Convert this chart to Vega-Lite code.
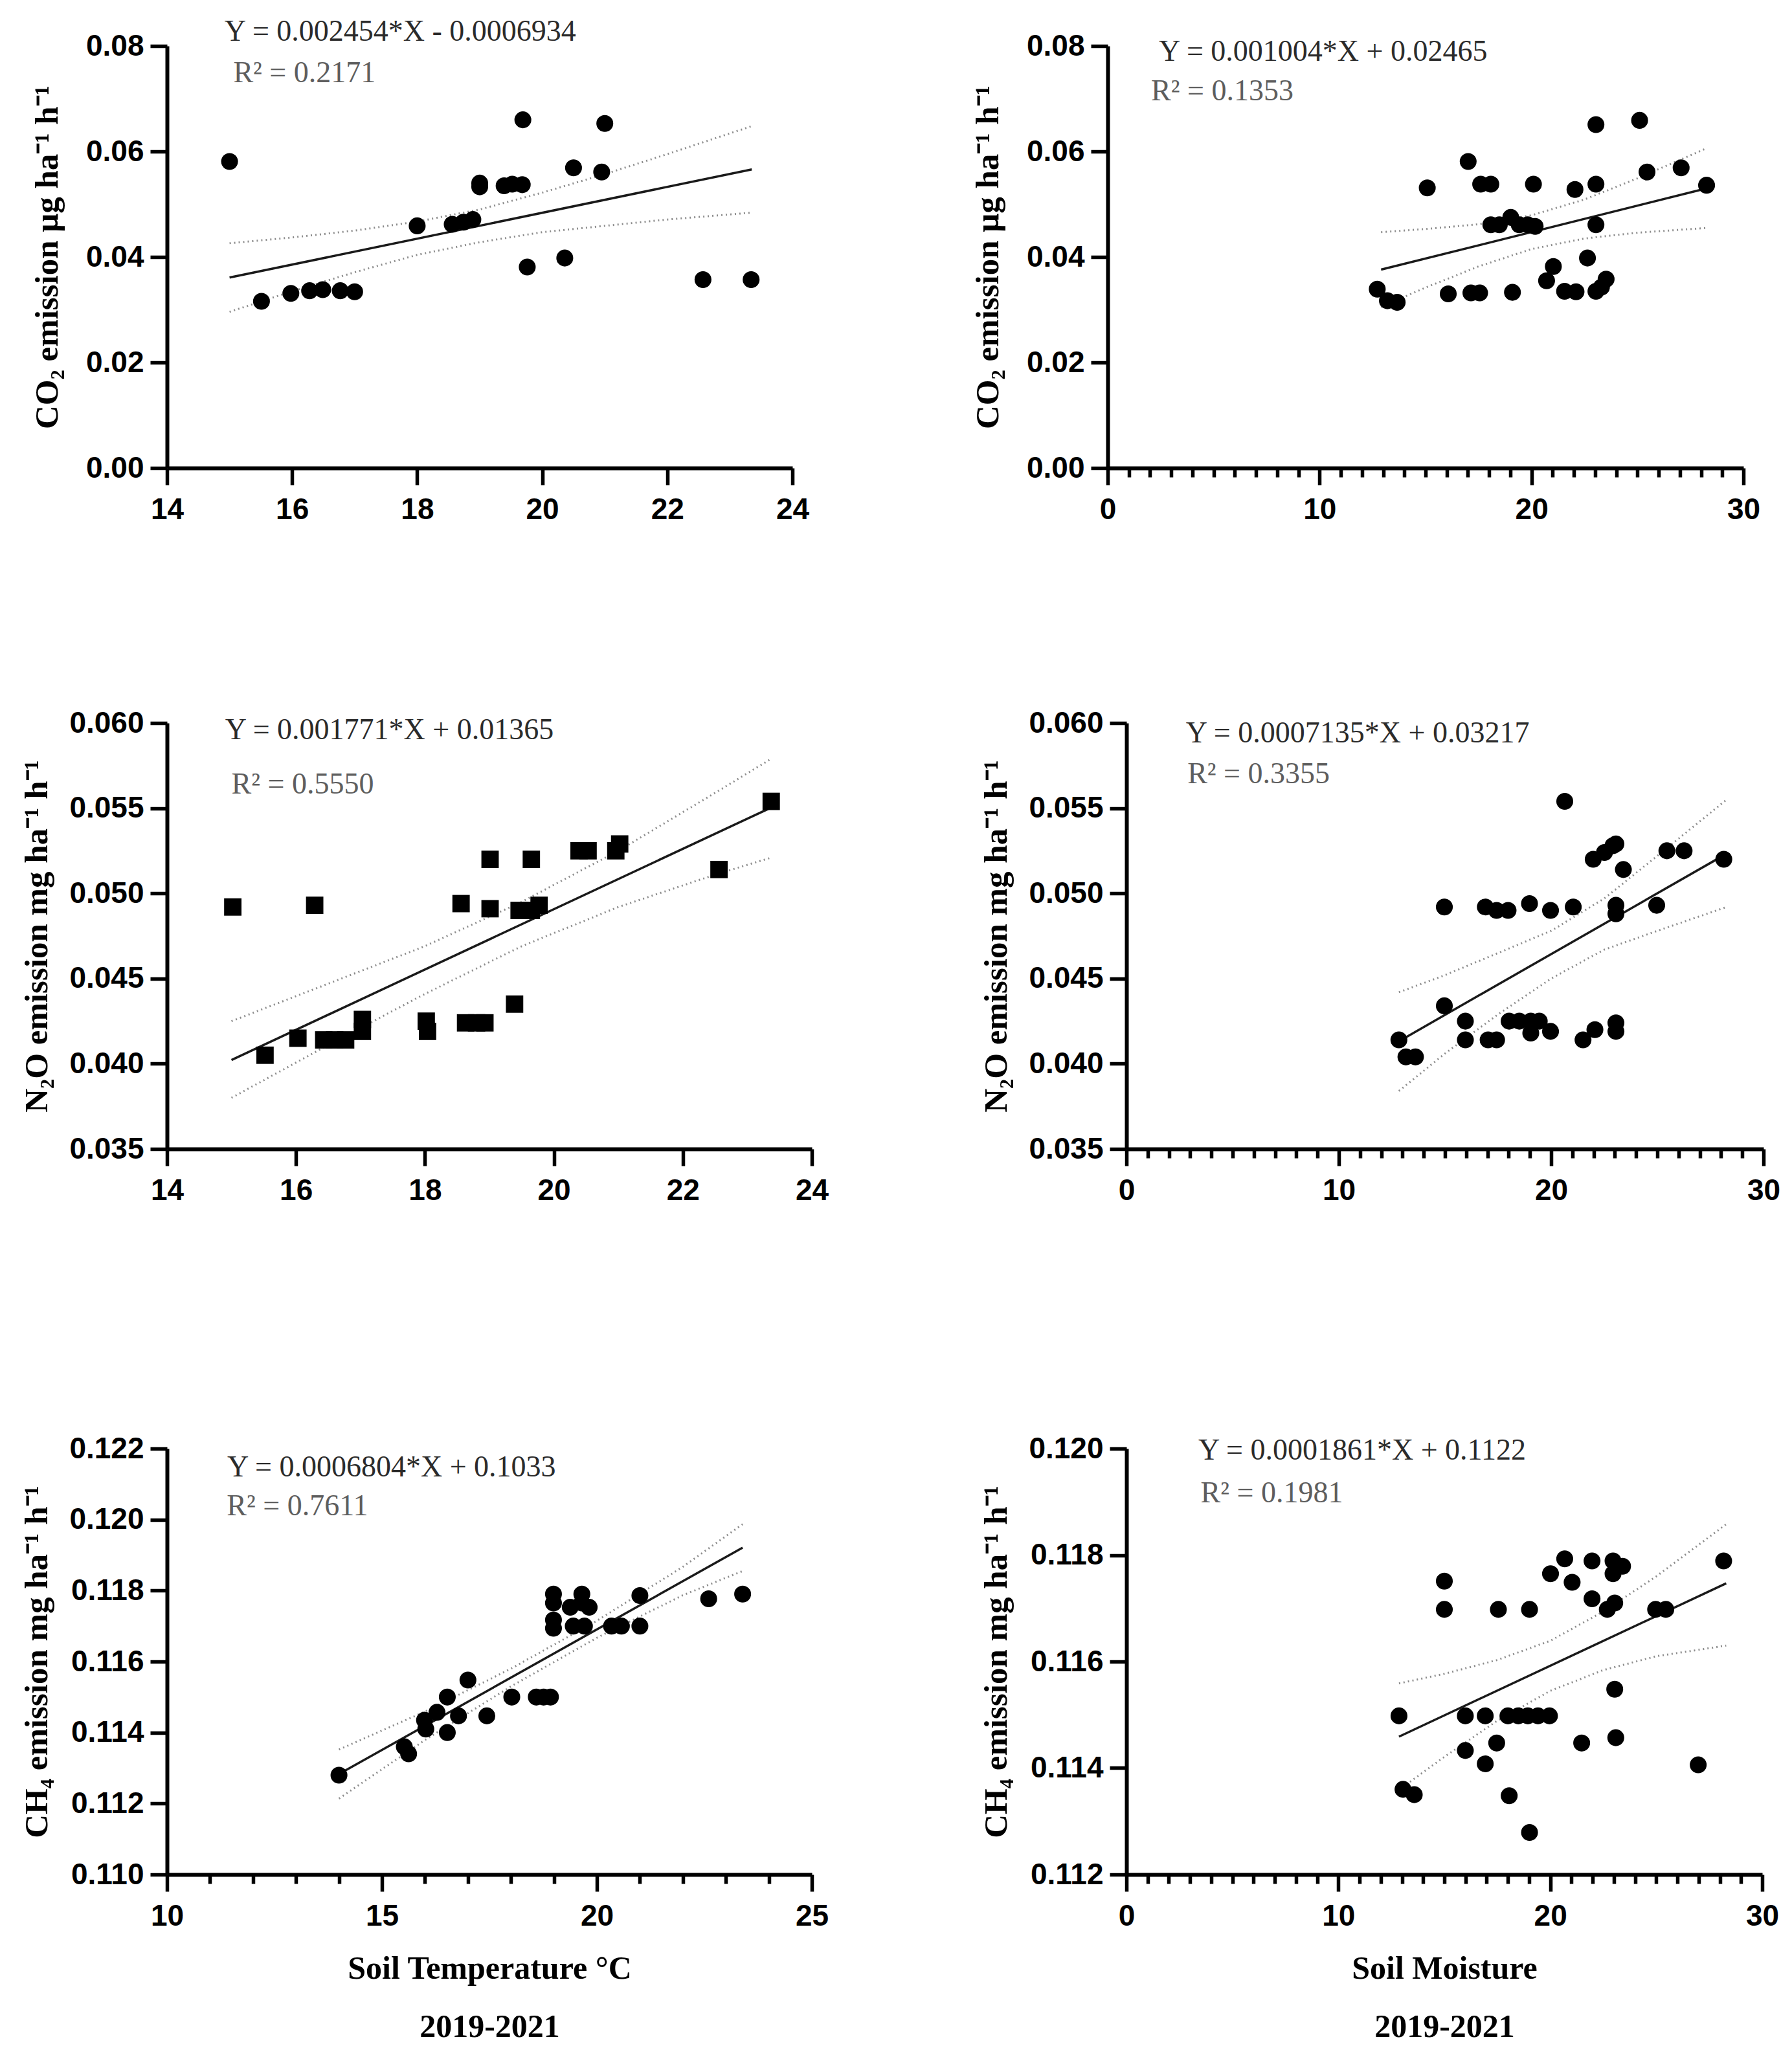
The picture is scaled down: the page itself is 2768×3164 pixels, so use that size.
{
  "$schema": "https://vega.github.io/schema/vega-lite/v6.json",
  "description": "CO2, N2O and CH4 emission vs soil temperature and soil moisture, 2019-2021",
  "background": "white",
  "padding": {"left": 31, "top": 25, "right": 5, "bottom": 5},
  "datasets": {
    "p1pts": [
      {"x": 15.0, "y": 0.0581}, {"x": 15.51, "y": 0.0316}, {"x": 15.98, "y": 0.0331}, {"x": 16.28, "y": 0.0336},
      {"x": 16.49, "y": 0.0338}, {"x": 16.77, "y": 0.0336}, {"x": 17.0, "y": 0.0334}, {"x": 18.0, "y": 0.0459},
      {"x": 18.56, "y": 0.0462}, {"x": 18.74, "y": 0.0466}, {"x": 18.89, "y": 0.0471}, {"x": 19.0, "y": 0.0533},
      {"x": 19.0, "y": 0.054}, {"x": 19.39, "y": 0.0535}, {"x": 19.52, "y": 0.0538}, {"x": 19.69, "y": 0.066},
      {"x": 19.68, "y": 0.0537}, {"x": 19.76, "y": 0.0381}, {"x": 20.36, "y": 0.0398}, {"x": 20.5, "y": 0.0569},
      {"x": 20.95, "y": 0.0561}, {"x": 21.0, "y": 0.0653}, {"x": 22.57, "y": 0.0357}, {"x": 23.34, "y": 0.0357}
    ],
    "p1cur": [
      {"x": 15.0, "y": 0.0361, "band": "fit"}, {"x": 23.35, "y": 0.0566, "band": "fit"},
      {"x": 15, "y": 0.0426, "band": "upper"}, {"x": 16, "y": 0.0437, "band": "upper"}, {"x": 17, "y": 0.045, "band": "upper"},
      {"x": 18, "y": 0.0467, "band": "upper"}, {"x": 19, "y": 0.049, "band": "upper"}, {"x": 20, "y": 0.0522, "band": "upper"},
      {"x": 21, "y": 0.0557, "band": "upper"}, {"x": 22, "y": 0.0595, "band": "upper"}, {"x": 23.35, "y": 0.0648, "band": "upper"},
      {"x": 15, "y": 0.0296, "band": "lower"}, {"x": 16, "y": 0.0335, "band": "lower"}, {"x": 17, "y": 0.0371, "band": "lower"},
      {"x": 18, "y": 0.0404, "band": "lower"}, {"x": 19, "y": 0.0428, "band": "lower"}, {"x": 20, "y": 0.0447, "band": "lower"},
      {"x": 21, "y": 0.0459, "band": "lower"}, {"x": 22, "y": 0.0471, "band": "lower"}, {"x": 23.35, "y": 0.0484, "band": "lower"}
    ],
    "p1txt": [
      {"x": 14.92, "y": 0.0827, "t": "Y = 0.002454*X - 0.0006934", "k": "eq"},
      {"x": 15.06, "y": 0.0749, "t": "R² = 0.2171", "k": "r2"}
    ],
    "p2pts": [
      {"x": 12.72, "y": 0.0339}, {"x": 13.2, "y": 0.0317}, {"x": 13.66, "y": 0.0314}, {"x": 15.08, "y": 0.0531},
      {"x": 16.07, "y": 0.033}, {"x": 17.01, "y": 0.0581}, {"x": 17.14, "y": 0.0332}, {"x": 17.55, "y": 0.0332},
      {"x": 17.6, "y": 0.0538}, {"x": 18.08, "y": 0.0538}, {"x": 18.08, "y": 0.0461}, {"x": 18.48, "y": 0.0461},
      {"x": 19.02, "y": 0.0475}, {"x": 19.1, "y": 0.0333}, {"x": 19.42, "y": 0.0461}, {"x": 19.82, "y": 0.0461},
      {"x": 20.09, "y": 0.0538}, {"x": 20.17, "y": 0.0458}, {"x": 20.71, "y": 0.0355}, {"x": 21.03, "y": 0.0382},
      {"x": 21.56, "y": 0.0335}, {"x": 22.05, "y": 0.0528}, {"x": 22.1, "y": 0.0334}, {"x": 22.64, "y": 0.0398},
      {"x": 23.04, "y": 0.0651}, {"x": 23.04, "y": 0.0538}, {"x": 23.04, "y": 0.0461}, {"x": 23.04, "y": 0.0335},
      {"x": 23.3, "y": 0.0343}, {"x": 23.52, "y": 0.0358}, {"x": 25.1, "y": 0.0659}, {"x": 25.45, "y": 0.0561},
      {"x": 27.06, "y": 0.0569}, {"x": 28.26, "y": 0.0536}
    ],
    "p2cur": [
      {"x": 12.9, "y": 0.0376, "band": "fit"}, {"x": 28.26, "y": 0.053, "band": "fit"},
      {"x": 12.9, "y": 0.0447, "band": "upper"}, {"x": 15, "y": 0.0453, "band": "upper"}, {"x": 17.5, "y": 0.0462, "band": "upper"},
      {"x": 20, "y": 0.0479, "band": "upper"}, {"x": 22.5, "y": 0.0509, "band": "upper"}, {"x": 25, "y": 0.0549, "band": "upper"},
      {"x": 28.26, "y": 0.0606, "band": "upper"},
      {"x": 12.9, "y": 0.0305, "band": "lower"}, {"x": 15, "y": 0.0342, "band": "lower"}, {"x": 17.5, "y": 0.0382, "band": "lower"},
      {"x": 20, "y": 0.0415, "band": "lower"}, {"x": 22.5, "y": 0.0435, "band": "lower"}, {"x": 25, "y": 0.0446, "band": "lower"},
      {"x": 28.26, "y": 0.0455, "band": "lower"}
    ],
    "p2txt": [
      {"x": 2.41, "y": 0.0789, "t": "Y = 0.001004*X + 0.02465", "k": "eq"},
      {"x": 2.05, "y": 0.0714, "t": "R² = 0.1353", "k": "r2"}
    ],
    "p3pts": [
      {"x": 15.02, "y": 0.0492}, {"x": 15.52, "y": 0.0405}, {"x": 16.03, "y": 0.0415}, {"x": 16.29, "y": 0.0493},
      {"x": 16.43, "y": 0.0414}, {"x": 16.6, "y": 0.0414}, {"x": 16.77, "y": 0.0414}, {"x": 17.03, "y": 0.0426},
      {"x": 17.03, "y": 0.0419}, {"x": 18.02, "y": 0.0425}, {"x": 18.04, "y": 0.0419}, {"x": 18.56, "y": 0.0494},
      {"x": 18.63, "y": 0.0424}, {"x": 18.8, "y": 0.0424}, {"x": 18.93, "y": 0.0424}, {"x": 19.01, "y": 0.052},
      {"x": 19.01, "y": 0.0491}, {"x": 19.39, "y": 0.0435}, {"x": 19.46, "y": 0.049}, {"x": 19.65, "y": 0.052},
      {"x": 19.65, "y": 0.049}, {"x": 19.77, "y": 0.0493}, {"x": 20.39, "y": 0.0525}, {"x": 20.53, "y": 0.0525},
      {"x": 20.96, "y": 0.0525}, {"x": 21.02, "y": 0.0529}, {"x": 22.56, "y": 0.0514}, {"x": 23.37, "y": 0.0554}
    ],
    "p3cur": [
      {"x": 15.0, "y": 0.04022, "band": "fit"}, {"x": 23.37, "y": 0.05504, "band": "fit"},
      {"x": 15, "y": 0.0425, "band": "upper"}, {"x": 16.5, "y": 0.0447, "band": "upper"}, {"x": 18, "y": 0.0469, "band": "upper"},
      {"x": 19.5, "y": 0.0495, "band": "upper"}, {"x": 21, "y": 0.0525, "band": "upper"}, {"x": 22.5, "y": 0.0559, "band": "upper"},
      {"x": 23.37, "y": 0.0579, "band": "upper"},
      {"x": 15, "y": 0.038, "band": "lower"}, {"x": 16.5, "y": 0.0411, "band": "lower"}, {"x": 18, "y": 0.0441, "band": "lower"},
      {"x": 19.5, "y": 0.0469, "band": "lower"}, {"x": 21, "y": 0.0492, "band": "lower"}, {"x": 22.5, "y": 0.0511, "band": "lower"},
      {"x": 23.37, "y": 0.0521, "band": "lower"}
    ],
    "p3txt": [
      {"x": 14.9, "y": 0.0596, "t": "Y = 0.001771*X + 0.01365", "k": "eq"},
      {"x": 15.0, "y": 0.0564, "t": "R² = 0.5550", "k": "r2"}
    ],
    "p4pts": [
      {"x": 12.83, "y": 0.0414}, {"x": 13.16, "y": 0.0404}, {"x": 13.61, "y": 0.0404}, {"x": 14.97, "y": 0.0492},
      {"x": 14.97, "y": 0.0434}, {"x": 15.96, "y": 0.0425}, {"x": 15.96, "y": 0.0414}, {"x": 16.9, "y": 0.0492},
      {"x": 17.03, "y": 0.0414}, {"x": 17.43, "y": 0.0414}, {"x": 17.43, "y": 0.049}, {"x": 17.97, "y": 0.049},
      {"x": 18.02, "y": 0.0425}, {"x": 18.5, "y": 0.0425}, {"x": 18.98, "y": 0.0494}, {"x": 19.04, "y": 0.0418},
      {"x": 19.04, "y": 0.0425}, {"x": 19.44, "y": 0.0425}, {"x": 19.97, "y": 0.049}, {"x": 19.97, "y": 0.0419},
      {"x": 20.64, "y": 0.0554}, {"x": 21.04, "y": 0.0492}, {"x": 21.5, "y": 0.0414}, {"x": 21.98, "y": 0.052},
      {"x": 22.06, "y": 0.042}, {"x": 22.51, "y": 0.0524}, {"x": 22.91, "y": 0.0528}, {"x": 23.05, "y": 0.0529},
      {"x": 23.05, "y": 0.0493}, {"x": 23.05, "y": 0.0488}, {"x": 23.05, "y": 0.0424}, {"x": 23.05, "y": 0.0419},
      {"x": 23.4, "y": 0.0514}, {"x": 24.97, "y": 0.0493}, {"x": 25.45, "y": 0.0525}, {"x": 26.26, "y": 0.0525},
      {"x": 28.13, "y": 0.052}
    ],
    "p4cur": [
      {"x": 12.83, "y": 0.04132, "band": "fit"}, {"x": 28.26, "y": 0.05233, "band": "fit"},
      {"x": 12.83, "y": 0.0442, "band": "upper"}, {"x": 15, "y": 0.0452, "band": "upper"}, {"x": 17.5, "y": 0.0465, "band": "upper"},
      {"x": 20, "y": 0.0478, "band": "upper"}, {"x": 22.5, "y": 0.0497, "band": "upper"}, {"x": 25, "y": 0.0522, "band": "upper"},
      {"x": 28.26, "y": 0.0555, "band": "upper"},
      {"x": 12.83, "y": 0.0384, "band": "lower"}, {"x": 15, "y": 0.0406, "band": "lower"}, {"x": 17.5, "y": 0.0429, "band": "lower"},
      {"x": 20, "y": 0.045, "band": "lower"}, {"x": 22.5, "y": 0.0467, "band": "lower"}, {"x": 25, "y": 0.0478, "band": "lower"},
      {"x": 28.26, "y": 0.0492, "band": "lower"}
    ],
    "p4txt": [
      {"x": 2.8, "y": 0.0594, "t": "Y = 0.0007135*X + 0.03217", "k": "eq"},
      {"x": 2.87, "y": 0.057, "t": "R² = 0.3355", "k": "r2"}
    ],
    "p5pts": [
      {"x": 14.0, "y": 0.1128}, {"x": 15.52, "y": 0.1136}, {"x": 15.62, "y": 0.1134}, {"x": 15.99, "y": 0.11435},
      {"x": 16.02, "y": 0.1141}, {"x": 16.28, "y": 0.11457}, {"x": 16.52, "y": 0.115}, {"x": 16.52, "y": 0.114},
      {"x": 16.78, "y": 0.11447}, {"x": 17.0, "y": 0.11548}, {"x": 17.44, "y": 0.11447}, {"x": 18.02, "y": 0.115},
      {"x": 18.59, "y": 0.115}, {"x": 18.76, "y": 0.115}, {"x": 18.92, "y": 0.115}, {"x": 18.99, "y": 0.1179},
      {"x": 18.99, "y": 0.11765}, {"x": 18.99, "y": 0.11717}, {"x": 18.99, "y": 0.11694}, {"x": 19.38, "y": 0.11753},
      {"x": 19.45, "y": 0.117}, {"x": 19.65, "y": 0.1179}, {"x": 19.65, "y": 0.11765}, {"x": 19.71, "y": 0.117},
      {"x": 19.82, "y": 0.11753}, {"x": 20.34, "y": 0.117}, {"x": 20.57, "y": 0.117}, {"x": 21.0, "y": 0.117},
      {"x": 21.0, "y": 0.11786}, {"x": 22.6, "y": 0.11777}, {"x": 23.39, "y": 0.1179}
    ],
    "p5cur": [
      {"x": 14.0, "y": 0.11283, "band": "fit"}, {"x": 23.39, "y": 0.11921, "band": "fit"},
      {"x": 14, "y": 0.11352, "band": "upper"}, {"x": 16, "y": 0.11459, "band": "upper"}, {"x": 18, "y": 0.1158, "band": "upper"},
      {"x": 20, "y": 0.11715, "band": "upper"}, {"x": 22, "y": 0.11867, "band": "upper"}, {"x": 23.39, "y": 0.11987, "band": "upper"},
      {"x": 14, "y": 0.11214, "band": "lower"}, {"x": 16, "y": 0.11379, "band": "lower"}, {"x": 18, "y": 0.1153, "band": "lower"},
      {"x": 20, "y": 0.11667, "band": "lower"}, {"x": 22, "y": 0.11787, "band": "lower"}, {"x": 23.39, "y": 0.11855, "band": "lower"}
    ],
    "p5txt": [
      {"x": 11.4, "y": 0.12147, "t": "Y = 0.0006804*X + 0.1033", "k": "eq"},
      {"x": 11.39, "y": 0.12038, "t": "R² = 0.7611", "k": "r2"}
    ],
    "p6pts": [
      {"x": 12.86, "y": 0.11498}, {"x": 13.05, "y": 0.1136}, {"x": 13.58, "y": 0.1135}, {"x": 15.0, "y": 0.11751},
      {"x": 15.0, "y": 0.11698}, {"x": 15.99, "y": 0.11498}, {"x": 15.99, "y": 0.11433}, {"x": 16.93, "y": 0.11498},
      {"x": 16.93, "y": 0.11408}, {"x": 17.47, "y": 0.11447}, {"x": 17.55, "y": 0.11698}, {"x": 18.0, "y": 0.11498},
      {"x": 18.06, "y": 0.11348}, {"x": 18.49, "y": 0.11498}, {"x": 18.94, "y": 0.11498}, {"x": 19.02, "y": 0.11698},
      {"x": 19.02, "y": 0.11279}, {"x": 19.42, "y": 0.11498}, {"x": 19.96, "y": 0.11498}, {"x": 20.01, "y": 0.11765},
      {"x": 20.68, "y": 0.11793}, {"x": 21.03, "y": 0.11749}, {"x": 21.48, "y": 0.11447}, {"x": 21.97, "y": 0.11789},
      {"x": 21.97, "y": 0.11718}, {"x": 22.69, "y": 0.11698}, {"x": 22.96, "y": 0.11789}, {"x": 22.96, "y": 0.11765},
      {"x": 23.04, "y": 0.1171}, {"x": 23.04, "y": 0.11548}, {"x": 23.09, "y": 0.11457}, {"x": 23.41, "y": 0.11779},
      {"x": 24.97, "y": 0.11698}, {"x": 25.45, "y": 0.11698}, {"x": 26.98, "y": 0.11406}, {"x": 28.18, "y": 0.11789}
    ],
    "p6cur": [
      {"x": 12.86, "y": 0.11459, "band": "fit"}, {"x": 28.3, "y": 0.11747, "band": "fit"},
      {"x": 12.86, "y": 0.11559, "band": "upper"}, {"x": 15, "y": 0.11577, "band": "upper"}, {"x": 17.5, "y": 0.11603, "band": "upper"},
      {"x": 20, "y": 0.11639, "band": "upper"}, {"x": 22.5, "y": 0.11694, "band": "upper"}, {"x": 25, "y": 0.1176, "band": "upper"},
      {"x": 28.3, "y": 0.11858, "band": "upper"},
      {"x": 12.86, "y": 0.11359, "band": "lower"}, {"x": 15, "y": 0.11421, "band": "lower"}, {"x": 17.5, "y": 0.11489, "band": "lower"},
      {"x": 20, "y": 0.11545, "band": "lower"}, {"x": 22.5, "y": 0.11584, "band": "lower"}, {"x": 25, "y": 0.1161, "band": "lower"},
      {"x": 28.3, "y": 0.1163, "band": "lower"}
    ],
    "p6txt": [
      {"x": 3.39, "y": 0.11996, "t": "Y = 0.0001861*X + 0.1122", "k": "eq"},
      {"x": 3.5, "y": 0.11916, "t": "R² = 0.1981", "k": "r2"}
    ]
  },
  "concat": [
    {
      "hconcat": [
        {
          "width": 966, "height": 652,
          "encoding": {
            "x": {"field": "x", "type": "quantitative", "scale": {"domain": [14, 24], "nice": false, "zero": false},
                  "axis": {"title": null, "values": [14, 16, 18, 20, 22, 24]}},
            "y": {"field": "y", "type": "quantitative", "scale": {"domain": [0, 0.08], "nice": false},
                  "axis": {"title": "CO₂ emission μg ha⁻¹ h⁻¹", "titlePadding": 33, "values": [0, 0.02, 0.04, 0.06, 0.08], "format": ".2f"}}
          },
          "layer": [
            {"data": {"name": "p1cur"}, "transform": [{"filter": "datum.band !== 'fit'"}],
             "mark": {"type": "line", "color": "#8c8c8c", "strokeWidth": 3, "strokeDash": [2, 5]},
             "encoding": {"detail": {"field": "band"}}},
            {"data": {"name": "p1cur"}, "transform": [{"filter": "datum.band === 'fit'"}],
             "mark": {"type": "line", "color": "#1a1a1a", "strokeWidth": 3.5}, "encoding": {}},
            {"data": {"name": "p1pts"}, "mark": {"type": "circle", "size": 680, "color": "#000", "opacity": 1}},
            {"data": {"name": "p1txt"},
             "mark": {"type": "text", "align": "left", "baseline": "middle", "font": "Liberation Serif", "fontSize": 46},
             "encoding": {"text": {"field": "t"},
                          "color": {"field": "k", "type": "nominal", "scale": {"domain": ["eq", "r2"], "range": ["#2b2b2b", "#5e5e5e"]}, "legend": null}}}
          ]
        },
        {
          "width": 982, "height": 652,
          "encoding": {
            "x": {"field": "x", "type": "quantitative", "scale": {"domain": [0, 30], "nice": false, "zero": false},
                  "axis": {"title": null, "values": [0,1,2,3,4,5,6,7,8,9,10,11,12,13,14,15,16,17,18,19,20,21,22,23,24,25,26,27,28,29,30],
                           "labelExpr": "datum.value % 10 === 0 ? datum.label : ''",
                           "tickSize": {"condition": {"test": "datum.value % 10 === 0", "value": 26}, "value": 14}}},
            "y": {"field": "y", "type": "quantitative", "scale": {"domain": [0, 0.08], "nice": false},
                  "axis": {"title": "CO₂ emission μg ha⁻¹ h⁻¹", "titlePadding": 33, "values": [0, 0.02, 0.04, 0.06, 0.08], "format": ".2f"}}
          },
          "layer": [
            {"data": {"name": "p2cur"}, "transform": [{"filter": "datum.band !== 'fit'"}],
             "mark": {"type": "line", "color": "#8c8c8c", "strokeWidth": 3, "strokeDash": [2, 5]},
             "encoding": {"detail": {"field": "band"}}},
            {"data": {"name": "p2cur"}, "transform": [{"filter": "datum.band === 'fit'"}],
             "mark": {"type": "line", "color": "#1a1a1a", "strokeWidth": 3.5}, "encoding": {}},
            {"data": {"name": "p2pts"}, "mark": {"type": "circle", "size": 680, "color": "#000", "opacity": 1}},
            {"data": {"name": "p2txt"},
             "mark": {"type": "text", "align": "left", "baseline": "middle", "font": "Liberation Serif", "fontSize": 46},
             "encoding": {"text": {"field": "t"},
                          "color": {"field": "k", "type": "nominal", "scale": {"domain": ["eq", "r2"], "range": ["#2b2b2b", "#5e5e5e"]}, "legend": null}}}
          ]
        }
      ],
      "spacing": 250
    },
    {
      "concat": [
        {
          "hconcat": [
            {
              "width": 996, "height": 658,
              "encoding": {
                "x": {"field": "x", "type": "quantitative", "scale": {"domain": [14, 24], "nice": false, "zero": false},
                      "axis": {"title": null, "values": [14, 16, 18, 20, 22, 24]}},
                "y": {"field": "y", "type": "quantitative", "scale": {"domain": [0.035, 0.06], "nice": false, "zero": false},
                      "axis": {"title": "N₂O emission mg ha⁻¹ h⁻¹", "values": [0.035, 0.04, 0.045, 0.05, 0.055, 0.06], "format": ".3f"}}
              },
              "layer": [
                {"data": {"name": "p3cur"}, "transform": [{"filter": "datum.band !== 'fit'"}],
                 "mark": {"type": "line", "color": "#8c8c8c", "strokeWidth": 3, "strokeDash": [2, 5]},
                 "encoding": {"detail": {"field": "band"}}},
                {"data": {"name": "p3cur"}, "transform": [{"filter": "datum.band === 'fit'"}],
                 "mark": {"type": "line", "color": "#1a1a1a", "strokeWidth": 3.5}, "encoding": {}},
                {"data": {"name": "p3pts"}, "mark": {"type": "square", "size": 720, "color": "#000", "opacity": 1}},
                {"data": {"name": "p3txt"},
                 "mark": {"type": "text", "align": "left", "baseline": "middle", "font": "Liberation Serif", "fontSize": 46},
                 "encoding": {"text": {"field": "t"},
                              "color": {"field": "k", "type": "nominal", "scale": {"domain": ["eq", "r2"], "range": ["#2b2b2b", "#5e5e5e"]}, "legend": null}}}
              ]
            },
            {
              "width": 984, "height": 658,
              "encoding": {
                "x": {"field": "x", "type": "quantitative", "scale": {"domain": [0, 30], "nice": false, "zero": false},
                      "axis": {"title": null, "values": [0,1,2,3,4,5,6,7,8,9,10,11,12,13,14,15,16,17,18,19,20,21,22,23,24,25,26,27,28,29,30],
                               "labelExpr": "datum.value % 10 === 0 ? datum.label : ''",
                               "tickSize": {"condition": {"test": "datum.value % 10 === 0", "value": 26}, "value": 14}}},
                "y": {"field": "y", "type": "quantitative", "scale": {"domain": [0.035, 0.06], "nice": false, "zero": false},
                      "axis": {"title": "N₂O emission mg ha⁻¹ h⁻¹", "values": [0.035, 0.04, 0.045, 0.05, 0.055, 0.06], "format": ".3f"}}
              },
              "layer": [
                {"data": {"name": "p4cur"}, "transform": [{"filter": "datum.band !== 'fit'"}],
                 "mark": {"type": "line", "color": "#8c8c8c", "strokeWidth": 3, "strokeDash": [2, 5]},
                 "encoding": {"detail": {"field": "band"}}},
                {"data": {"name": "p4cur"}, "transform": [{"filter": "datum.band === 'fit'"}],
                 "mark": {"type": "line", "color": "#1a1a1a", "strokeWidth": 3.5}, "encoding": {}},
                {"data": {"name": "p4pts"}, "mark": {"type": "circle", "size": 680, "color": "#000", "opacity": 1}},
                {"data": {"name": "p4txt"},
                 "mark": {"type": "text", "align": "left", "baseline": "middle", "font": "Liberation Serif", "fontSize": 46},
                 "encoding": {"text": {"field": "t"},
                              "color": {"field": "k", "type": "nominal", "scale": {"domain": ["eq", "r2"], "range": ["#2b2b2b", "#5e5e5e"]}, "legend": null}}}
              ]
            }
          ],
          "spacing": 233
        },
        {
          "hconcat": [
            {
              "width": 996, "height": 658,
              "encoding": {
                "x": {"field": "x", "type": "quantitative", "scale": {"domain": [10, 25], "nice": false, "zero": false},
                      "axis": {"title": ["Soil Temperature °C", "2019-2021"], "titleFontSize": 50, "titleLineHeight": 90, "titlePadding": 33,
                               "values": [10,11,12,13,14,15,16,17,18,19,20,21,22,23,24,25],
                               "labelExpr": "datum.value % 5 === 0 ? datum.label : ''",
                               "tickSize": {"condition": {"test": "datum.value % 5 === 0", "value": 26}, "value": 14}}},
                "y": {"field": "y", "type": "quantitative", "scale": {"domain": [0.11, 0.122], "nice": false, "zero": false},
                      "axis": {"title": "CH₄ emission mg ha⁻¹ h⁻¹", "values": [0.11, 0.112, 0.114, 0.116, 0.118, 0.12, 0.122], "format": ".3f"}}
              },
              "layer": [
                {"data": {"name": "p5cur"}, "transform": [{"filter": "datum.band !== 'fit'"}],
                 "mark": {"type": "line", "color": "#8c8c8c", "strokeWidth": 3, "strokeDash": [2, 5]},
                 "encoding": {"detail": {"field": "band"}}},
                {"data": {"name": "p5cur"}, "transform": [{"filter": "datum.band === 'fit'"}],
                 "mark": {"type": "line", "color": "#1a1a1a", "strokeWidth": 3.5}, "encoding": {}},
                {"data": {"name": "p5pts"}, "mark": {"type": "circle", "size": 680, "color": "#000", "opacity": 1}},
                {"data": {"name": "p5txt"},
                 "mark": {"type": "text", "align": "left", "baseline": "middle", "font": "Liberation Serif", "fontSize": 46},
                 "encoding": {"text": {"field": "t"},
                              "color": {"field": "k", "type": "nominal", "scale": {"domain": ["eq", "r2"], "range": ["#2b2b2b", "#5e5e5e"]}, "legend": null}}}
              ]
            },
            {
              "width": 982, "height": 658,
              "encoding": {
                "x": {"field": "x", "type": "quantitative", "scale": {"domain": [0, 30], "nice": false, "zero": false},
                      "axis": {"title": ["Soil Moisture", "2019-2021"], "titleFontSize": 50, "titleLineHeight": 90, "titlePadding": 33,
                               "values": [0,1,2,3,4,5,6,7,8,9,10,11,12,13,14,15,16,17,18,19,20,21,22,23,24,25,26,27,28,29,30],
                               "labelExpr": "datum.value % 10 === 0 ? datum.label : ''",
                               "tickSize": {"condition": {"test": "datum.value % 10 === 0", "value": 26}, "value": 14}}},
                "y": {"field": "y", "type": "quantitative", "scale": {"domain": [0.112, 0.12], "nice": false, "zero": false},
                      "axis": {"title": "CH₄ emission mg ha⁻¹ h⁻¹", "values": [0.112, 0.114, 0.116, 0.118, 0.12], "format": ".3f"}}
              },
              "layer": [
                {"data": {"name": "p6cur"}, "transform": [{"filter": "datum.band !== 'fit'"}],
                 "mark": {"type": "line", "color": "#8c8c8c", "strokeWidth": 3, "strokeDash": [2, 5]},
                 "encoding": {"detail": {"field": "band"}}},
                {"data": {"name": "p6cur"}, "transform": [{"filter": "datum.band === 'fit'"}],
                 "mark": {"type": "line", "color": "#1a1a1a", "strokeWidth": 3.5}, "encoding": {}},
                {"data": {"name": "p6pts"}, "mark": {"type": "circle", "size": 680, "color": "#000", "opacity": 1}},
                {"data": {"name": "p6txt"},
                 "mark": {"type": "text", "align": "left", "baseline": "middle", "font": "Liberation Serif", "fontSize": 46},
                 "encoding": {"text": {"field": "t"},
                              "color": {"field": "k", "type": "nominal", "scale": {"domain": ["eq", "r2"], "range": ["#2b2b2b", "#5e5e5e"]}, "legend": null}}}
              ]
            }
          ],
          "spacing": 233
        }
      ],
      "columns": 1,
      "align": "none",
      "spacing": 353
    }
  ],
  "columns": 1,
  "align": "none",
  "spacing": 284,
  "config": {
    "view": {"stroke": null},
    "axis": {
      "grid": false,
      "domainColor": "#000", "domainWidth": 6,
      "tickColor": "#000", "tickWidth": 5.5, "tickSize": 26,
      "labelFont": "Liberation Sans", "labelFontWeight": "bold", "labelFontSize": 46, "labelColor": "#000",
      "labelPadding": 10, "labelFlush": false, "labelOverlap": false,
      "titleFont": "Liberation Serif", "titleFontWeight": "bold", "titleFontSize": 51, "titleColor": "#000",
      "titlePadding": 23
    },
    "axisX": {"labelPadding": 16}
  }
}
